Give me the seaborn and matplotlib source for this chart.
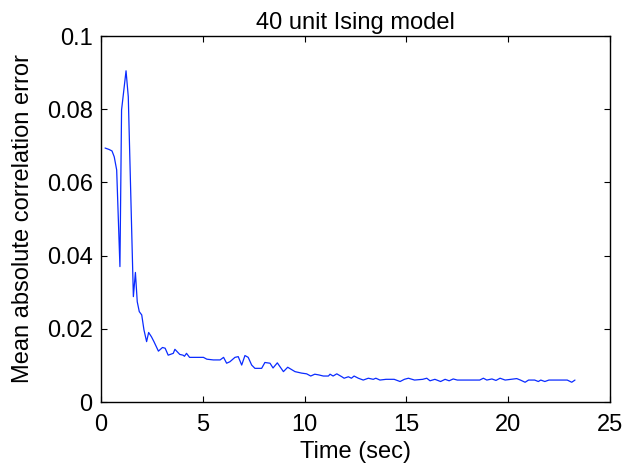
import matplotlib
matplotlib.use("Agg")
import matplotlib.pyplot as plt
import seaborn as sns
import pandas as pd

time_sec = [0.20, 0.40, 0.54, 0.65, 0.77, 0.93, 1.01, 1.23, 1.34, 1.59, 1.69, 1.78, 1.88, 2.00,
            2.11, 2.24, 2.34, 2.48, 2.60, 2.82, 3.02, 3.15, 3.30, 3.55, 3.63, 3.87, 4.03, 4.10,
            4.20, 4.35, 5.03, 5.20, 5.52, 5.85, 6.02, 6.17, 6.33, 6.58, 6.74, 6.91, 7.07, 7.23,
            7.40, 7.56, 7.89, 8.05, 8.30, 8.45, 8.66, 8.96, 9.17, 9.53, 9.85, 10.10, 10.30, 10.50,
            10.70, 10.92, 11.17, 11.25, 11.40, 11.58, 11.83, 11.94, 12.15, 12.30, 12.43, 12.64,
            12.88, 13.13, 13.37, 13.50, 13.70, 14.00, 14.40, 14.69, 14.90, 15.10, 15.40, 15.80,
            16.00, 16.16, 16.40, 16.68, 16.90, 17.10, 17.30, 17.50, 18.60, 18.78, 18.95, 19.20,
            19.40, 19.60, 19.85, 20.42, 20.60, 20.83, 21.00, 21.30, 21.48, 21.60, 21.80, 22.00,
            22.90, 23.12, 23.28]
error = [0.0694, 0.0690, 0.0686, 0.0670, 0.0634, 0.0370, 0.0798, 0.0905, 0.0834, 0.0288, 0.0354,
         0.0274, 0.0247, 0.0238, 0.0197, 0.0165, 0.0190, 0.0178, 0.0165, 0.0139, 0.0149, 0.0147,
         0.0128, 0.0133, 0.0144, 0.0130, 0.0128, 0.0125, 0.0133, 0.0122, 0.0122, 0.0117, 0.0115,
         0.0115, 0.0122, 0.0106, 0.0110, 0.0122, 0.0124, 0.0101, 0.0127, 0.0122, 0.0101, 0.0092,
         0.0092, 0.0108, 0.0106, 0.0093, 0.0107, 0.0083, 0.0095, 0.0083, 0.0079, 0.0077, 0.0071,
         0.0076, 0.0074, 0.0071, 0.0071, 0.0076, 0.0071, 0.0077, 0.0069, 0.0065, 0.0069, 0.0065,
         0.0071, 0.0065, 0.0060, 0.0065, 0.0062, 0.0065, 0.0060, 0.0062, 0.0062, 0.0056, 0.0062,
         0.0065, 0.0060, 0.0062, 0.0065, 0.0058, 0.0062, 0.0056, 0.0062, 0.0058, 0.0063, 0.0060,
         0.0060, 0.0065, 0.0060, 0.0063, 0.0059, 0.0065, 0.0060, 0.0064, 0.0060, 0.0054, 0.0060,
         0.0060, 0.0056, 0.0060, 0.0056, 0.0060, 0.0060, 0.0054, 0.0060]

x_ticks = [0, 5, 10, 15, 20, 25]
y_ticks = [0, 0.02, 0.04, 0.06, 0.08, 0.1]
y_tick_labels = ["0", "0.02", "0.04", "0.06", "0.08", "0.1"]

sns.set_style("white")
plt.rcParams['font.family'] = ['Liberation Sans', 'DejaVu Sans']
plt.rcParams['xtick.direction'] = 'in'
plt.rcParams['ytick.direction'] = 'in'
plt.rcParams['text.color'] = 'black'
plt.rcParams['axes.labelcolor'] = 'black'

df = pd.DataFrame({"t": time_sec, "err": error})

fig = plt.figure(figsize=(6.25, 4.68), dpi=100)
ax = fig.add_axes([0.1616, 0.141, 0.8144, 0.782])
sns.lineplot(data=df, x="t", y="err", ax=ax, color="#0a2bff", linewidth=0.9)

fs = 17
ax.set_xlim(0, 25)
ax.set_ylim(0, 0.1)
ax.set_xticks(x_ticks)
ax.set_xticklabels([str(v) for v in x_ticks])
ax.set_yticks(y_ticks)
ax.set_yticklabels(y_tick_labels)
ax.tick_params(axis='both', which='both', direction='in', length=4, width=0.8,
               labelsize=fs, top=True, right=True, bottom=True, left=True,
               colors='black')
ax.tick_params(axis='x', pad=8.5)
ax.tick_params(axis='y', pad=6)
for s in ax.spines.values():
    s.set_color('black')
    s.set_linewidth(1.0)
    s.set_visible(True)

ax.set_xlabel("Time (sec)", fontsize=fs, labelpad=4, color='black')
ax.set_ylabel("Mean absolute correlation error", fontsize=fs, labelpad=9, color='black')
ax.set_title("40 unit Ising model", fontsize=fs, pad=5, color='black')

fig.savefig("out.png", dpi=100)
